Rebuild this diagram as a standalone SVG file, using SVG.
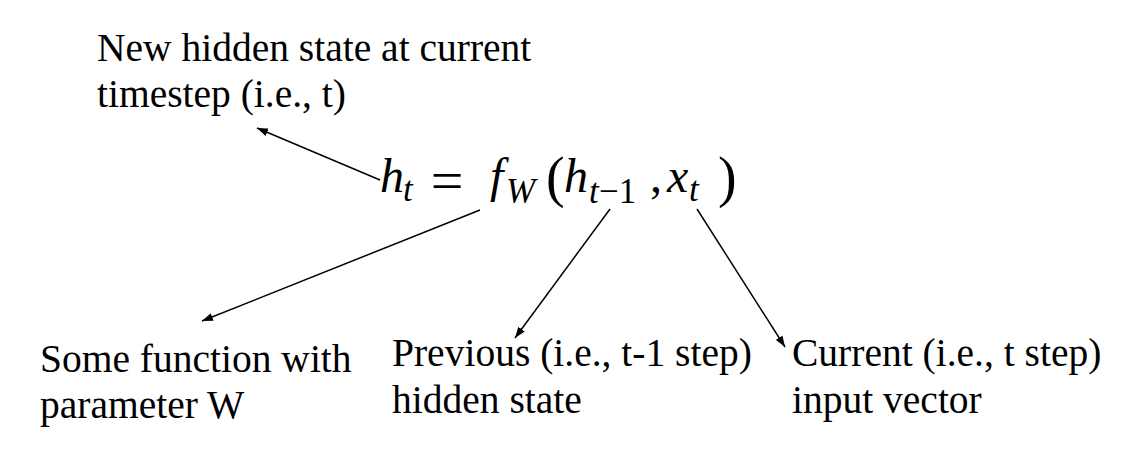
<svg xmlns="http://www.w3.org/2000/svg" width="1128" height="455" viewBox="0 0 1128 455">
<style>
.lbl{font-family:"Liberation Serif","Times New Roman",serif;font-size:39.5px;fill:#000}
.mi{font-family:"Liberation Serif","Times New Roman",serif;font-style:italic;fill:#000}
.mr{font-family:"Liberation Serif","Times New Roman",serif;fill:#000}
.main{font-size:48px}
.sub{font-size:35px}
.conn{stroke:#000;stroke-width:1.5;fill:none}
</style>
<defs>
<marker id="arr" markerUnits="userSpaceOnUse" markerWidth="12" markerHeight="8" refX="11" refY="4" orient="auto">
<path d="M0,0 L11,4 L0,8 z" fill="#000"/>
</marker>
</defs>
<rect width="1128" height="455" fill="#fff"/>
<g id="connectors">
<line class="conn" x1="380" y1="180" x2="257" y2="128" marker-end="url(#arr)"/>
<line class="conn" x1="480" y1="210" x2="202" y2="321" marker-end="url(#arr)"/>
<line class="conn" x1="610" y1="209" x2="515" y2="338" marker-end="url(#arr)"/>
<line class="conn" x1="697" y1="209" x2="785" y2="347" marker-end="url(#arr)"/>
</g>
<g id="equation">
<text class="mi main" x="380" y="192">h</text>
<text class="mi sub" x="403" y="201">t</text>
<text class="mr" x="447" y="200" font-size="58" text-anchor="middle">=</text>
<text class="mi main" x="490" y="192">f</text>
<text class="mi sub" x="506" y="203">W</text>
<text class="mr" x="546" y="196" font-size="56">(</text>
<text class="mi main" x="564" y="192">h</text>
<text class="mi sub" x="589" y="203">t</text>
<text class="mr sub" x="599" y="203">−1</text>
<text class="mr main" x="650" y="192">,</text>
<text class="mi main" x="667" y="192">x</text>
<text class="mi sub" x="689" y="201">t</text>
<text class="mr" x="718" y="196" font-size="56">)</text>
</g>
<g id="new-hidden-state">
<text class="lbl" x="97" y="61">New hidden state at current</text>
<text class="lbl" x="97" y="107">timestep (i.e., t)</text>
</g>
<g id="some-function">
<text class="lbl" x="40" y="372">Some function with</text>
<text class="lbl" x="40" y="418">parameter W</text>
</g>
<g id="previous-hidden-state">
<text class="lbl" x="392" y="366">Previous (i.e., t-1 step)</text>
<text class="lbl" x="392" y="413">hidden state</text>
</g>
<g id="current-input">
<text class="lbl" x="792" y="366">Current (i.e., t step)</text>
<text class="lbl" x="792" y="413">input vector</text>
</g>
</svg>
